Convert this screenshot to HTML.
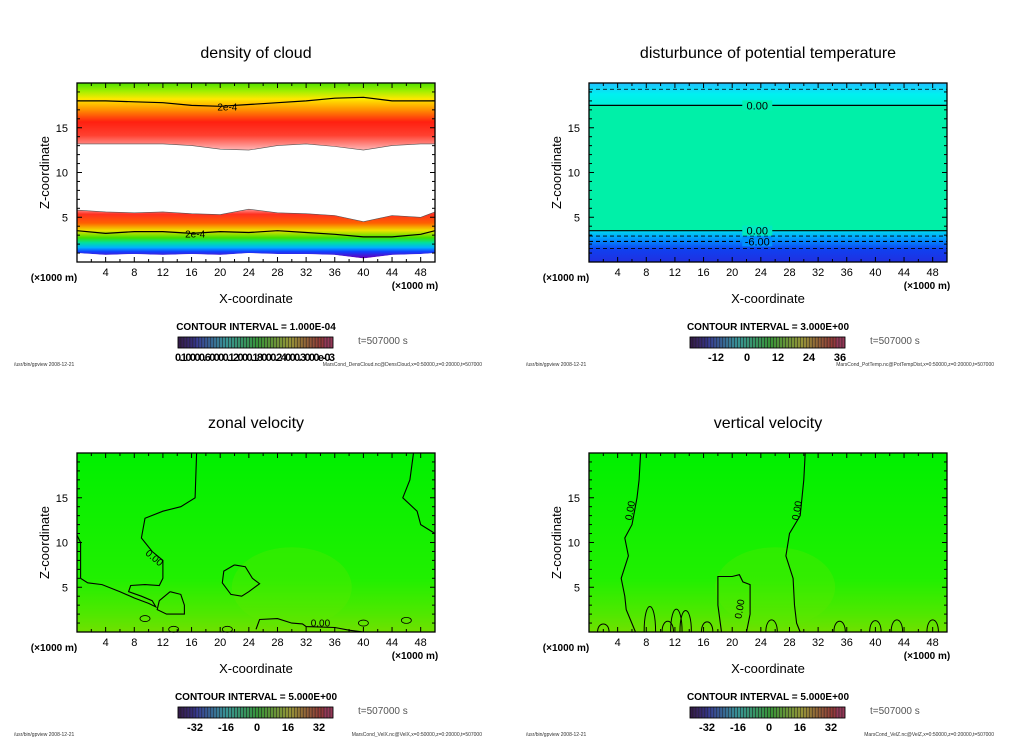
<!DOCTYPE html>
<html><head><meta charset="utf-8"><style>
html,body{margin:0;padding:0;background:#fff;}
svg{display:block;font-family:"Liberation Sans",sans-serif;}
</style></head><body>
<svg id="s" width="1024" height="740" viewBox="0 0 1024 740"></svg>
<script>
// ---- data ----
const xTickLabels=[4,8,12,16,20,24,28,32,36,40,44,48];
const zTickLabels=[5,10,15];
const panelTitles=["density of cloud","disturbunce of potential temperature","zonal velocity","vertical velocity"];
const intervals=["CONTOUR INTERVAL = 1.000E-04","CONTOUR INTERVAL = 3.000E+00","CONTOUR INTERVAL = 5.000E+00","CONTOUR INTERVAL = 5.000E+00"];
const cbLabels=[["0.10000.60000.12000.18000.24000.3000e-03"],["-12","0","12","24","36"],["-32","-16","0","16","32"],["-32","-16","0","16","32"]];
const footers=["MarsCond_DensCloud.nc@DensCloud,x=0:50000,z=0:20000,t=507000","MarsCond_PotTemp.nc@PotTempDist,x=0:50000,z=0:20000,t=507000","MarsCond_VelX.nc@VelX,x=0:50000,z=0:20000,t=507000","MarsCond_VelZ.nc@VelZ,x=0:50000,z=0:20000,t=507000"];
// cloud boundaries (x in km, z in km)
const cloudX=[0,4,8,12,16,20,24,28,32,36,40,44,48,50];
const upperBottom=[13.2,13.2,13.2,13.2,13.0,12.6,12.5,13.0,13.2,12.9,12.5,13.0,13.2,13.2];
const upper2e4=[18.0,18.0,17.9,17.8,17.5,17.4,17.6,17.8,18.0,18.3,18.4,18.0,18.0,18.0];
const lowerTop=[5.8,5.6,5.5,5.6,5.4,5.3,5.9,5.5,5.4,5.2,4.5,5.2,5.0,5.6];
const lower2e4=[3.5,3.2,3.4,3.4,3.2,3.4,3.3,3.5,3.3,3.1,2.8,2.8,3.1,3.5];
const lowerBottom=[1.0,0.8,0.9,0.8,0.9,0.8,1.0,0.9,0.9,0.8,0.4,0.8,0.9,1.0];
// potential temperature contour levels
const ptSolid=[17.5,3.5];
const ptDashed=[19.3,2.9,2.3,1.5];
// zonal velocity contours
const u0a=[[16.7,20],[16.5,15],[14.5,14],[12,13.5],[9.5,12.7],[9,10.5],[10.5,9],[12,8],[12,6],[11.5,5.2],[9.5,5.3],[7.5,5.2],[7.2,4.5],[9,4],[10.5,3.5],[11,2.8],[10,3.2],[8,3.8],[6,4.5],[3.5,5.3],[1.5,5.5],[0.5,6],[0.5,10],[0,10.8]];
const u0b=[[47,20],[46.5,17],[45.5,15],[47.5,13.5],[48,12],[50,11]];
const u0c=[[22,7.5],[20.5,6.8],[20.3,5.5],[21.5,4.2],[23,4],[24,4.5],[25.5,5.4],[24.5,6],[23.5,7.3],[22,7.5]];
const u0d=[[13,4.5],[11.5,3.5],[11.2,2.5],[12.5,2],[15,2],[15,3],[14.5,4.2],[13,4.5]];
const u0e=[[25,0.3],[25.5,1.4],[28,1.5],[30,1.0],[31.5,0.9],[32,0.6],[36,0.5],[38,0.2],[40,0]];
// vertical velocity contours
const w0a=[[7.2,20],[7.0,17],[6.7,15],[6.0,12],[5.0,10.5],[5.5,8.5],[4.5,6],[5,4],[5.2,2.5],[6.5,0]];
const w0b=[[30.2,20],[30,17],[29.5,13],[28,11],[27.5,8.5],[28.5,6],[28.7,3],[29,1],[29.5,0]];
const w0c=[[18.5,0],[18,3],[18,6.2],[20,6.2],[21,6.4],[21.5,5.6],[22.5,5.3],[22.5,2],[22,0]];
const wSmall=[[2,1.2],[8.5,3.8],[11,1.6],[12.2,3.4],[13.5,3.2],[16.5,1.5],[25.5,1.8],[35,1.6],[40,1.7],[43,1.8],[48,1.8]];

// ---- drawing ----
const NS="http://www.w3.org/2000/svg";
const svg=document.getElementById('s');
function el(tag,attrs,parent,txt){const e=document.createElementNS(NS,tag);for(const k in attrs)e.setAttribute(k,attrs[k]);if(txt!==undefined)e.textContent=txt;(parent||svg).appendChild(e);return e;}
const W=358,H=179;
const sx=v=>v/50*W, sz=v=>H-v/20*H;
function lineFrom(pts){return pts.map((p,i)=>(i?'L':'M')+sx(p[0]).toFixed(1)+','+sz(p[1]).toFixed(1)).join(' ');}
function band(xs,top,bot){let d='M'+xs.map((x,i)=>sx(x)+','+sz(top[i])).join(' L');d+=' L'+xs.map((x,i)=>[x,i]).reverse().map(([x,i])=>sx(x)+','+sz(bot[i])).join(' L')+' Z';return d;}
const defs=el('defs',{});
function grad(id,stops,y1,y2){const g=el('linearGradient',{id:id,x1:0,y1:y1,x2:0,y2:y2,gradientUnits:'userSpaceOnUse'},defs);stops.forEach(s=>el('stop',{offset:s[0],'stop-color':s[1]},g));}
grad('gUp',[[0,'#50e000'],[0.12,'#a0f000'],[0.24,'#ffe800'],[0.4,'#ff9000'],[0.58,'#ff2010'],[0.78,'#ff4030'],[1,'#ffb8b8']],sz(20),sz(12.5));
grad('gLo',[[0,'#ffa8a8'],[0.12,'#ff3020'],[0.3,'#ff6000'],[0.45,'#f0e000'],[0.6,'#40e000'],[0.7,'#00e0a0'],[0.8,'#00b0ff'],[0.88,'#1040ff'],[1,'#6000c0']],sz(6),sz(0.5));
grad('gPtTop',[[0,'#20c0ff'],[0.5,'#00f0f0'],[1,'#00f0d8']],sz(20),sz(17.5));
grad('gPtBot',[[0,'#00d8f0'],[0.3,'#0090ff'],[0.6,'#1040f0'],[1,'#2030e0']],sz(3.5),sz(0));

const offs=[[77,83],[589,83],[77,453],[589,453]];
offs.forEach((o,p)=>{
  const g=el('g',{transform:`translate(${o[0]},${o[1]})`});
  
  
  const t=el('text',{x:179,y:-25,'text-anchor':'middle','font-size':16},g,panelTitles[p]);
  
  const plot=el('g',{},g);
  
  if(p===0){
    el('rect',{x:0,y:0,width:W,height:H,fill:'url(#gUp)'},plot);
    el('path',{d:band(cloudX,upperBottom,lowerTop),fill:'#fff'},plot);
    el('path',{d:band(cloudX,lowerTop,lowerBottom),fill:'url(#gLo)'},plot);
    el('path',{d:band(cloudX,lowerBottom,cloudX.map(()=>0)),fill:'#fff'},plot);
    const pts=a=>cloudX.map((x,i)=>[x,a[i]]);
    [[upper2e4,1.2,'#000'],[lower2e4,1.2,'#000'],[upperBottom,0.6,'#555'],[lowerTop,0.6,'#555']].forEach(([a,w,c])=>{const l=el('path',{d:lineFrom(pts(a)),fill:'none',stroke:c,'stroke-width':w},plot);});
    [[sx(21),sz(17.4)],[sx(16.5),sz(3.2)]].forEach(q=>{const tl=el('text',{x:q[0],y:q[1]+4,'text-anchor':'middle','font-size':10},plot,'2e-4');});
  } else if(p===1){
    el('rect',{x:0,y:0,width:W,height:H,fill:'#00f0a8'},plot);
    el('rect',{x:0,y:0,width:W,height:sz(17.5),fill:'url(#gPtTop)'},plot);
    el('rect',{x:0,y:sz(3.5),width:W,height:H-sz(3.5),fill:'url(#gPtBot)'},plot);
    ptSolid.forEach(z=>{const l=el('line',{x1:0,x2:W,y1:sz(z),y2:sz(z),stroke:'#000','stroke-width':1.2},plot);});
    ptDashed.forEach((z,i)=>{const l=el('line',{x1:0,x2:W,y1:sz(z),y2:sz(z),stroke:'#000','stroke-width':i===2?1.2:0.8,'stroke-dasharray':'4,3'},plot);});
    [[17.5,'#00f0b0','0.00'],[3.5,'#00e8c0','0.00'],[2.3,'#0090ff','-6.00']].forEach(([z,c,s])=>{el('rect',{x:sx(23.5)-15,y:sz(z)-5,width:30,height:10,fill:c},plot);const tl=el('text',{x:sx(23.5),y:sz(z)+4,'text-anchor':'middle','font-size':11},plot,s);});
  } else {
    grad('gV'+p,[[0,'#00f000'],[0.7,'#20f000'],[0.9,'#50e800'],[1,'#70e000']],0,H);
    el('rect',{x:0,y:0,width:W,height:H,fill:'url(#gV'+p+')'},plot);
    el('ellipse',{cx:sx(p===2?30:26),cy:sz(5),rx:60,ry:40,fill:'#60e800',opacity:0.3},plot);
    const sets=p===2?[u0a,u0b,u0c,u0d,u0e]:[w0a,w0b,w0c];
    sets.forEach(s=>{const l=el('path',{d:lineFrom(s),fill:'none',stroke:'#000','stroke-width':1.1},plot);});
    if(p===3){wSmall.forEach(c=>{const l=el('path',{d:`M${sx(c[0]-0.8)},${H} C${sx(c[0]-0.8)},${sz(c[1])} ${sx(c[0]+0.8)},${sz(c[1])} ${sx(c[0]+0.8)},${H}`,fill:'none',stroke:'#000','stroke-width':1},plot);});}
    else{[[9.5,1.5],[13.5,0.3],[21,0.3],[40,1.0],[46,1.3]].forEach(c=>{const l=el('ellipse',{cx:sx(c[0]),cy:sz(c[1]),rx:5,ry:3,fill:'none',stroke:'#000','stroke-width':0.8},plot);});}
    const labs=p===2?[[sx(10.5),sz(8),40,'0.00'],[sx(34),sz(0.6),0,'0.00']]:[[sx(6.2),sz(13.5),-80,'0.00'],[sx(29.5),sz(13.5),-80,'0.00'],[sx(21.5),sz(2.5),-80,'0.00']];
    labs.forEach(l=>{const tl=el('text',{x:l[0],y:l[1],'text-anchor':'middle','font-size':10,transform:`rotate(${l[2]} ${l[0]} ${l[1]})`},plot,l[3]);});
  }
  // frame & ticks
  el('rect',{x:0,y:0,width:W,height:H,fill:'none',stroke:'#000','stroke-width':1.3},g);
  for(let v=2;v<50;v+=2){const L=v%4===0?5:3;el('line',{x1:sx(v),x2:sx(v),y1:H,y2:H-L,stroke:'#000'},g);el('line',{x1:sx(v),x2:sx(v),y1:0,y2:L,stroke:'#000'},g);}
  for(let v=1;v<20;v++){const L=v%5===0?5:3;el('line',{x1:0,x2:L,y1:sz(v),y2:sz(v),stroke:'#000'},g);el('line',{x1:W,x2:W-L,y1:sz(v),y2:sz(v),stroke:'#000'},g);}
  xTickLabels.forEach(v=>{const t=el('text',{x:sx(v),y:H+14,'text-anchor':'middle','font-size':11},g,v);});
  zTickLabels.forEach(v=>{const t=el('text',{x:-9,y:sz(v)+4,'text-anchor':'end','font-size':11},g,v);});
  let t2=el('text',{x:-23,y:H+19,'text-anchor':'middle','font-size':10,'font-weight':'bold'},g,'(×1000 m)');
  t2=el('text',{x:338,y:H+27,'text-anchor':'middle','font-size':10,'font-weight':'bold'},g,'(×1000 m)');
  t2=el('text',{x:179,y:H+41,'text-anchor':'middle','font-size':13},g,'X-coordinate');
  t2=el('text',{x:0,y:0,'text-anchor':'middle','font-size':13,transform:`translate(-28,${H/2}) rotate(-90)`},g,'Z-coordinate');
  t2=el('text',{x:179,y:H+68,'text-anchor':'middle','font-size':10,'font-weight':'bold'},g,intervals[p]);
  // colorbar
  const cb=el('g',{transform:`translate(101,${H+75})`},g);
  
  const n=52,cw=155/n;
  for(let i=0;i<n;i++){const f=i/(n-1);const hue=f<0.95?270-f*290:-20;const light=f<0.1?20+f*150:40;el('rect',{x:i*cw,y:0,width:cw,height:11,fill:`hsl(${(hue+360)%360},45%,${light}%)`,stroke:'#222','stroke-width':0.5},cb);}
  el('rect',{x:0,y:0,width:155,height:11,fill:'none',stroke:'#000','stroke-width':0.8},cb);
  const labs=cbLabels[p];
  if(labs.length===1){t2=el('text',{x:77,y:24,'text-anchor':'middle','font-size':11,'font-weight':'bold',textLength:160},cb,labs[0]);}
  else labs.forEach((s,i)=>{const xx=p===1?[26,57,88,119,150][i]:[17,48,79,110,141][i];t2=el('text',{x:xx,y:24,'text-anchor':'middle','font-size':11,'font-weight':'bold'},cb,s);});
  t2=el('text',{x:281,y:H+82,'font-size':10,fill:'#555'},g,'t=507000 s');
  t2=el('text',{x:-63,y:H+104,'font-size':5,fill:'#333'},g,'/usr/bin/gpview   2008-12-21');
  t2=el('text',{x:405,y:H+104,'text-anchor':'end','font-size':5,fill:'#333'},g,footers[p]);
});
</script>
</body></html>
